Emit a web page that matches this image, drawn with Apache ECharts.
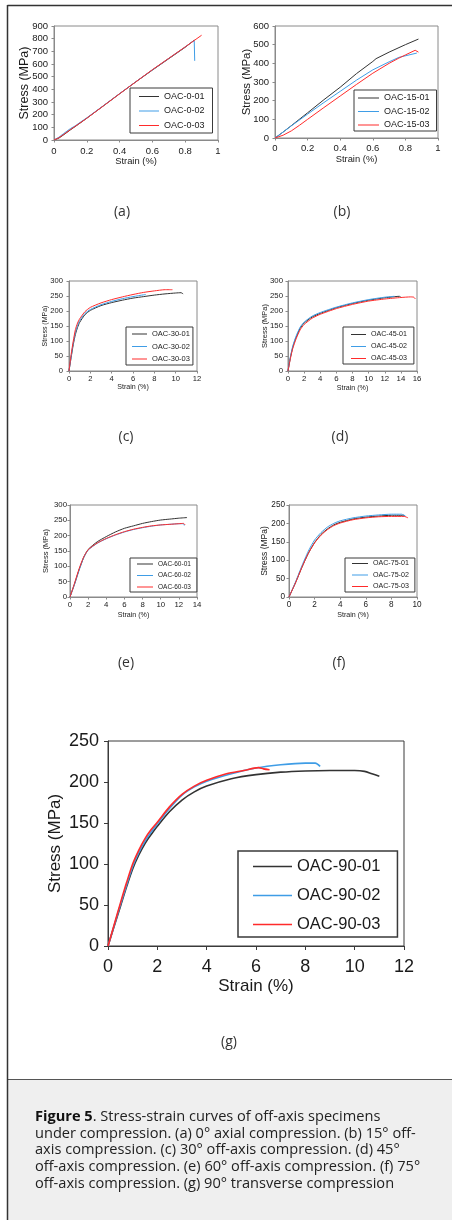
<!DOCTYPE html>
<html>
<head>
<meta charset="utf-8">
<script src="https://cdn.jsdelivr.net/npm/echarts@6/dist/echarts.min.js"></script>
<style>
  html, body { margin: 0; padding: 0; background: #fff; }
  #fig { width: 452px; height: 1220px; }
</style>
</head>
<body>
<div id="fig"></div>
<script>
// Stress–strain curves (strain in %, stress in MPa) for each off-axis angle.
const a01 = [[0,0],[0.03,15],[0.06,42],[0.1,80],[0.15,125],[0.2,172],[0.3,268],[0.4,365],[0.5,460],[0.6,552],[0.7,642],[0.8,732],[0.855,788]];
const a02 = [[0,0],[0.03,22],[0.06,52],[0.1,90],[0.13,112],[0.16,140],[0.2,175],[0.3,270],[0.4,366],[0.5,461],[0.6,554],[0.7,645],[0.8,735],[0.855,786],[0.858,625]];
const a03 = [[0,0],[0.03,18],[0.06,45],[0.1,82],[0.15,127],[0.2,172],[0.3,268],[0.4,365],[0.5,460],[0.6,555],[0.7,645],[0.8,735],[0.9,827]];

const b01 = [[0,0],[0.05,32],[0.1,66],[0.2,135],[0.3,205],[0.4,272],[0.5,345],[0.6,410],[0.62,425],[0.7,460],[0.8,500],[0.88,530]];
const b02 = [[0,0],[0.05,32],[0.1,65],[0.2,128],[0.3,190],[0.4,250],[0.5,310],[0.6,365],[0.7,408],[0.76,432],[0.87,455]];
const b03 = [[0,0],[0.05,15],[0.1,38],[0.15,68],[0.2,100],[0.3,163],[0.4,225],[0.5,287],[0.6,347],[0.7,400],[0.76,428],[0.8,445],[0.86,470],[0.88,460]];

const c01 = [[0,0],[0.2,45],[0.4,88],[0.6,122],[0.8,145],[1,162],[1.5,188],[2,202],[3,218],[4,228],[5,236],[6,243],[7,248],[8,253],[9,257],[10,260],[10.5,261],[10.7,257]];
const c02 = [[0,0],[0.2,48],[0.4,94],[0.6,128],[0.8,152],[1,168],[1.5,192],[2,205],[3,221],[4,232],[5,241],[6,248],[7,254],[7.2,255]];
const c03 = [[0,0],[0.2,55],[0.4,100],[0.6,138],[0.8,160],[1,174],[1.5,198],[2,212],[3,227],[4,238],[5,247],[6,255],[7,262],[8,267],[9,271],[9.7,271]];

const d01 = [[0,0],[0.3,45],[0.6,80],[1,112],[1.5,142],[2,160],[3,180],[4,192],[6,211],[8,225],[10,236],[12,244],[13,247],[13.8,249],[14,246]];
const d02 = [[0,0],[0.3,48],[0.6,84],[1,116],[1.5,146],[2,163],[3,183],[4,195],[6,213],[8,227],[10,238],[12,246],[13.2,249]];
const d03 = [[0,0],[0.3,42],[0.6,76],[1,107],[1.5,137],[2,155],[3,176],[4,189],[6,208],[8,222],[10,233],[12,240],[14,245],[15.2,247],[15.6,246],[15.8,240]];

const e01 = [[0,0],[0.5,42],[1,88],[1.5,128],[2,155],[3,180],[4,197],[5,212],[6,224],[7,232],[8,240],[9,246],[10,251],[11,254],[12,257],[12.9,259]];
const e02 = [[0,0],[0.5,42],[1,88],[1.5,128],[2,153],[3,175],[4,190],[5,202],[6,212],[7,220],[8,226],[9,231],[10,235],[11,237],[12,239],[12.5,239],[12.6,233]];
const e03 = [[0,0],[0.5,45],[1,92],[1.5,130],[2,154],[3,176],[4,191],[5,203],[6,213],[7,221],[8,227],[9,232],[10,235],[11,237],[12,239],[12.5,240],[12.7,235]];

const f01 = [[0,0],[0.5,38],[1,80],[1.5,118],[2,148],[2.5,170],[3,185],[3.5,196],[4,203],[5,212],[6,217],[7,220],[8,222],[9,222]];
const f02 = [[0,0],[0.5,40],[1,84],[1.5,124],[2,155],[2.5,175],[3,190],[3.5,200],[4,207],[5,215],[6,220],[7,223],[8,225],[8.8,225],[9.1,220]];
const f03 = [[0,0],[0.5,38],[1,80],[1.5,118],[2,147],[2.5,168],[3,183],[3.5,194],[4,201],[5,210],[6,215],[7,218],[8,219],[9,219],[9.3,215]];

const g01 = [[0,0],[0.25,24],[0.5,48],[0.75,72],[1,94],[1.25,111],[1.5,125],[1.75,136],[2,146],[2.5,164],[3,178],[3.5,188],[4,195],[5,204],[6,209],[7,212],[8,213.5],[9,214],[10,214],[10.4,213],[10.7,210],[11,207]];
const g02 = [[0,0],[0.25,25],[0.5,50],[0.75,74],[1,97],[1.25,114],[1.5,128],[1.75,139],[2,149],[2.5,168],[3,184],[3.5,194],[4,201],[5,210],[6,217],[7,221],[8,223],[8.4,223],[8.6,219]];
const g03 = [[0,0],[0.25,26],[0.5,52],[0.75,77],[1,100],[1.25,117],[1.5,131],[1.75,142],[2,151],[2.5,170],[3,185],[3.5,195],[4,202],[4.8,210],[5.5,214],[6.1,217.5],[6.3,216],[6.55,215]];

// Specimen names per panel and axis ranges [min, max, interval]
const namesA = ['OAC-0-01', 'OAC-0-02', 'OAC-0-03'];
const namesB = ['OAC-15-01', 'OAC-15-02', 'OAC-15-03'];
const namesC = ['OAC-30-01', 'OAC-30-02', 'OAC-30-03'];
const namesD = ['OAC-45-01', 'OAC-45-02', 'OAC-45-03'];
const namesE = ['OAC-60-01', 'OAC-60-02', 'OAC-60-03'];
const namesF = ['OAC-75-01', 'OAC-75-02', 'OAC-75-03'];
const namesG = ['OAC-90-01', 'OAC-90-02', 'OAC-90-03'];

const xRanges = [[0,1,0.2],[0,1,0.2],[0,12,2],[0,16,2],[0,14,2],[0,10,2],[0,12,2]];
const yRanges = [[0,900,100],[0,600,100],[0,300,50],[0,300,50],[0,300,50],[0,250,50],[0,250,50]];
const panelTags = ['(a)', '(b)', '(c)', '(d)', '(e)', '(f)', '(g)'];

const xTitle = 'Strain (%)';
const yTitle = 'Stress (MPa)';
const captionLines = [
  '{b|Figure 5}. Stress-strain curves of off-axis specimens',
  'under compression. (a) 0° axial compression. (b) 15° off-',
  'axis compression. (c) 30° off-axis compression. (d) 45°',
  'off-axis compression. (e) 60° off-axis compression. (f) 75°',
  'off-axis compression. (g) 90° transverse compression'
];

const curveSets = [[a01,a02,a03],[b01,b02,b03],[c01,c02,c03],[d01,d02,d03],[e01,e02,e03],[f01,f02,f03],[g01,g02,g03]];
const nameSets = [namesA, namesB, namesC, namesD, namesE, namesF, namesG];

// Layout and styling of each panel
const COLORS = ['#333333', '#3f9de6', '#ff2b2b'];
const SANS = '"Liberation Sans", Arial, sans-serif';
const CAPTION_FONT = '"Open Sans", "Noto Sans", sans-serif';
const panels = [
  { grid: {left: 54, top: 26, width: 164, height: 114}, tickFs: 9.5, xNameFs: 9.4, yNameFs: 12.5,
    xMargin: 6, yMargin: 6, xGap: 17, yGap: 22.5, smooth: false, lw: 1, axisColor: '#8a8a8a',
    legend: {left: 130, top: 88, padding: [4, 8, 3, 9], itemGap: 5.5, itemWidth: 20, itemHeight: 9, fs: 9},
    tag: [122, 212] },
  { grid: {left: 275, top: 26, width: 163, height: 112}, tickFs: 9.5, xNameFs: 9.4, yNameFs: 11.4,
    xMargin: 5, yMargin: 6, xGap: 17, yGap: 23, smooth: false, lw: 1, axisColor: '#8a8a8a',
    legend: {left: 354, top: 90, padding: [3.5, 7, 1.5, 4], itemGap: 4.5, itemWidth: 21, itemHeight: 9, fs: 9},
    tag: [342, 212] },
  { grid: {left: 69, top: 281, width: 128, height: 90}, tickFs: 7.6, xNameFs: 7.1, yNameFs: 7,
    xMargin: 4, yMargin: 6, xGap: 13, yGap: 20.5, smooth: 0.2, lw: 1, axisColor: '#8a8a8a',
    legend: {left: 126, top: 327, padding: [3, 3, 2, 6], itemGap: 4.5, itemWidth: 15, itemHeight: 8, fs: 7.5},
    tag: [126, 437] },
  { grid: {left: 288, top: 281, width: 129, height: 90}, tickFs: 7.8, xNameFs: 7.1, yNameFs: 7.5,
    xMargin: 3.5, yMargin: 5, xGap: 13.5, yGap: 19, smooth: 0.2, lw: 1, axisColor: '#8a8a8a',
    legend: {left: 343, top: 327, padding: [4, 7, 2, 8], itemGap: 5, itemWidth: 15, itemHeight: 8, fs: 7.1},
    tag: [340, 437] },
  { grid: {left: 70, top: 505, width: 127, height: 92}, tickFs: 7.8, xNameFs: 7.1, yNameFs: 7.5,
    xMargin: 4, yMargin: 3, xGap: 15, yGap: 20, smooth: 0.2, lw: 1, axisColor: '#8a8a8a',
    legend: {left: 130, top: 558, padding: [2.5, 6, 1.5, 7], itemGap: 4.5, itemWidth: 16, itemHeight: 7, fs: 6.5},
    tag: [126, 663] },
  { grid: {left: 289, top: 505, width: 128, height: 92}, tickFs: 8.2, xNameFs: 7.1, yNameFs: 8.5,
    xMargin: 4, yMargin: 4, xGap: 14.5, yGap: 19.5, smooth: 0.2, lw: 1, axisColor: '#8a8a8a',
    legend: {left: 345, top: 558, padding: [2, 6, 2, 7], itemGap: 4.5, itemWidth: 16, itemHeight: 7, fs: 7.1},
    tag: [339, 663] },
  { grid: {left: 108, top: 741, width: 296, height: 205}, tickFs: 18, xNameFs: 17, yNameFs: 17,
    xMargin: 12, yMargin: 9, xGap: 32, yGap: 44.5, smooth: 0.3, lw: 1.6, axisColor: '#3a3a3a',
    legend: {left: 238, top: 851, padding: [7, 17, 4, 15], itemGap: 12, itemWidth: 39, itemHeight: 16, fs: 16.5},
    tag: [229, 1042] }
];

const grids = [], xAxes = [], yAxes = [], series = [], legends = [], graphics = [];

panels.forEach((p, i) => {
  grids.push(Object.assign({ show: true, borderColor: p.axisColor, borderWidth: 1, backgroundColor: '#fff' }, p.grid));

  const axisCommon = {
    axisLine: { show: true, onZero: false, lineStyle: { color: p.axisColor, width: 1 } },
    axisTick: { show: true, inside: false, length: i === 6 ? 4 : 2.5, lineStyle: { color: p.axisColor } },
    splitLine: { show: false },
    nameLocation: 'middle',
    nameMoveOverlap: false
  };
  const xr = xRanges[i], yr = yRanges[i];
  xAxes.push(Object.assign({}, axisCommon, {
    type: 'value', gridIndex: i, min: xr[0], max: xr[1], interval: xr[2],
    name: xTitle, nameGap: p.xGap,
    nameTextStyle: { fontFamily: SANS, fontSize: p.xNameFs, color: '#1a1a1a' },
    axisLabel: { fontFamily: SANS, fontSize: p.tickFs, color: '#1a1a1a', margin: p.xMargin, showMaxLabel: true, showMinLabel: true }
  }));
  yAxes.push(Object.assign({}, axisCommon, {
    type: 'value', gridIndex: i, min: yr[0], max: yr[1], interval: yr[2],
    name: yTitle, nameGap: p.yGap, nameRotate: 90,
    nameTextStyle: { fontFamily: SANS, fontSize: p.yNameFs, color: '#1a1a1a' },
    axisLabel: { fontFamily: SANS, fontSize: p.tickFs, color: '#1a1a1a', margin: p.yMargin, showMaxLabel: true, showMinLabel: true }
  }));

  curveSets[i].forEach((curve, k) => {
    series.push({
      type: 'line', name: nameSets[i][k], xAxisIndex: i, yAxisIndex: i,
      data: curve, symbol: 'none', smooth: p.smooth, animation: false,
      lineStyle: { color: COLORS[k], width: p.lw },
      itemStyle: { color: COLORS[k] },
      z: 2 + k
    });
  });

  const L = p.legend;
  const iconH = i === 6 ? 1.6 : 1;
  legends.push({
    data: nameSets[i], orient: 'vertical', left: L.left, top: L.top,
    padding: L.padding, itemGap: L.itemGap, itemWidth: L.itemWidth, itemHeight: L.itemHeight,
    icon: 'path://M0,0H' + L.itemWidth + 'V' + iconH + 'H0Z',
    itemStyle: { borderWidth: 0 },
    selectedMode: false, backgroundColor: '#fff',
    borderColor: '#3a3a3a', borderWidth: i === 6 ? 1.5 : 1, borderRadius: 0,
    textStyle: { fontFamily: SANS, fontSize: L.fs, color: '#1a1a1a', padding: 0 },
    z: 10
  });

  graphics.push({
    type: 'text', x: p.tag[0], y: p.tag[1],
    style: { text: panelTags[i], fontFamily: CAPTION_FONT, fontSize: 14,
             fill: '#333', align: 'center', verticalAlign: 'middle' }
  });
});

// Page frame and caption block
graphics.unshift(
  { type: 'rect', shape: { x: 8, y: 1080, width: 444, height: 140 }, style: { fill: '#efefef' }, z: -1 },
  { type: 'line', shape: { x1: 8, y1: 1079.5, x2: 452, y2: 1079.5 }, style: { stroke: '#555', lineWidth: 1 } },
  { type: 'line', shape: { x1: 7.5, y1: 5.5, x2: 452, y2: 5.5 }, style: { stroke: '#333', lineWidth: 1.5 } },
  { type: 'line', shape: { x1: 7.5, y1: 5, x2: 7.5, y2: 1220 }, style: { stroke: '#333', lineWidth: 1.5 } }
);
graphics.push({
  type: 'text', x: 35, y: 1108.5,
  style: {
    text: captionLines.join('\n'),
    fontFamily: CAPTION_FONT, fontSize: 14.6, lineHeight: 16.7, fill: '#222',
    rich: { b: { fontWeight: 'bold', fontFamily: CAPTION_FONT, fontSize: 14.6, lineHeight: 16.7, fill: '#111' } }
  }
});

const chart = echarts.init(document.getElementById('fig'), null, { renderer: 'canvas' });
chart.setOption({
  animation: false,
  backgroundColor: '#fff',
  grid: grids,
  xAxis: xAxes,
  yAxis: yAxes,
  legend: legends,
  series: series,
  graphic: graphics
});
</script>
</body>
</html>
